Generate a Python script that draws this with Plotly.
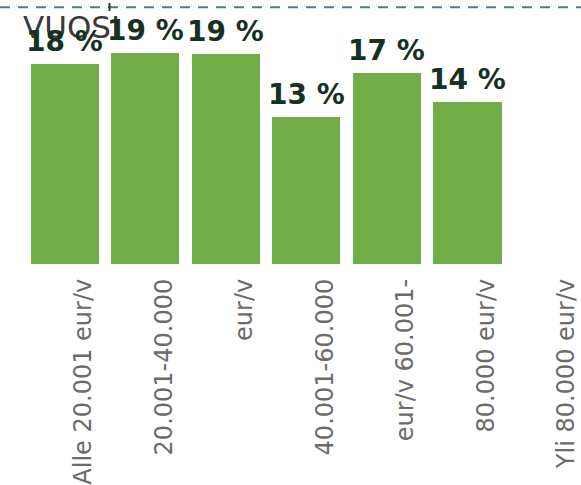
import plotly.graph_objects as go

# Data
tick_labels = [
    "Alle 20.001 eur/v",
    "20.001-40.000",
    "eur/v",
    "40.001-60.000",
    "eur/v 60.001-",
    "80.000 eur/v",
    "Yli 80.000 eur/v",
]
values = [17.7, 18.7, 18.6, 13.0, 16.9, 14.3]
value_labels = ["18 %", "19 %", "19 %", "13 %", "17 %", "14 %"]
title_text = "VUOSI"

W, H = 581, 485
bar_color = "#70AD47"
label_color = "#17301F"

fig = go.Figure()
fig.add_trace(go.Bar(
    x=list(range(len(values))),
    y=values,
    width=0.845,
    marker=dict(color=bar_color, line=dict(width=0)),
    hoverinfo="skip",
))

annotations = [
    dict(
        text=title_text, xref="paper", yref="paper", x=20.5 / W, y=1,
        xanchor="left", yanchor="top", yshift=-7, showarrow=False,
        font=dict(family="DejaVu Sans", size=31, color="#3a3a3a"),
    )
]
for i, (v, t) in enumerate(zip(values, value_labels)):
    annotations.append(dict(
        text=t, x=i, y=v, xref="x", yref="y", xanchor="center", yanchor="bottom",
        yshift=4, showarrow=False,
        font=dict(family="DejaVu Sans", size=28, color=label_color, weight="bold"),
    ))

fig.update_layout(
    width=W, height=H,
    margin=dict(l=0, r=0, t=0, b=221, pad=0),
    paper_bgcolor="white", plot_bgcolor="white",
    showlegend=False,
    bargap=0,
    xaxis=dict(
        range=[-0.807, 6.41],
        tickmode="array",
        tickvals=[i + 0.23 for i in range(len(tick_labels))],
        ticktext=tick_labels,
        tickangle=-90,
        showgrid=False, zeroline=False, showline=False, ticks="",
        ticklabelstandoff=9,
        tickfont=dict(family="DejaVu Sans", size=24, color="#6b6b6b"),
        fixedrange=True,
    ),
    yaxis=dict(range=[0, 264 / 11.3], visible=False, fixedrange=True),
    annotations=annotations,
    shapes=[
        dict(type="line", xref="paper", yref="paper", x0=0, x1=1,
             y0=1 - 7.3 / 264, y1=1 - 7.3 / 264,
             line=dict(color="#58798a", width=2, dash="10px,8px")),
        dict(type="line", xref="paper", yref="paper", x0=109.5 / W, x1=109.5 / W,
             y0=1 - 3 / 264, y1=1 - 11 / 264,
             line=dict(color="#2f3a3a", width=2)),
    ],
)

fig.write_html(
    "out.html",
    config={"displayModeBar": False},
    post_script="document.body.style.margin='0px';document.body.style.overflow='hidden';",
)
